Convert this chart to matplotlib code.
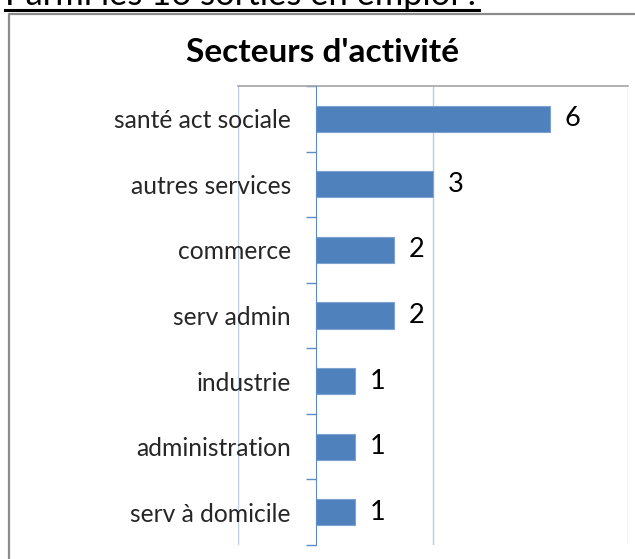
import matplotlib
matplotlib.use("Agg")
import matplotlib.pyplot as plt
from matplotlib.lines import Line2D

# data, top to bottom
secteurs = ["santé act sociale", "autres services", "commerce", "serv admin",
            "industrie", "administration", "serv à domicile"]
effectifs = [6, 3, 2, 2, 1, 1, 1]
grille_x = [-2, 3, 8]

titre = "Secteurs d'activité"
entete = "Parmi les 16 sorties en emploi :"

W, H = 635, 559
plt.rcParams['font.family'] = ['Lato', 'DejaVu Sans']

fig = plt.figure(figsize=(W / 100, H / 100), dpi=100)

def px(x, y):
    # pixel coords (from top-left) -> figure fraction
    return x / W, 1 - y / H

# header text, mostly cut off at the top like in the original
fig.text(*px(5, 5), entete, fontsize=24.8, color='black', va='baseline', ha='left')
fig.add_artist(Line2D([5 / W, 479 / W], [1 - 10 / H, 1 - 10 / H],
                      transform=fig.transFigure, color='black', lw=2.2))

# chart border (left and top visible)
fig.add_artist(Line2D([9 / W, 9 / W, 1.01], [-0.01, 1 - 14 / H, 1 - 14 / H],
                      transform=fig.transFigure, color='#8c8c8c', lw=1.6))

fig.text(*px(323, 62), titre, fontsize=24, fontweight='bold', color='black',
         va='baseline', ha='center')

left, right, top, bottom = 238, 628, 86, 545
ax = fig.add_axes([left / W, 1 - bottom / H, (right - left) / W, (bottom - top) / H])

# move the category axis to x=0 first (this resets the ticks)
ax.spines['left'].set_position(('data', 0))

pos = list(range(len(secteurs)))
ax.barh(pos, effectifs, height=0.4, color='#4f81bd', edgecolor='#7da2d0',
        linewidth=0.8, zorder=3)

for p, v in zip(pos, effectifs):
    ax.annotate(str(v), (v, p), xytext=(10.5, 0), textcoords='offset points',
                va='center', ha='left', fontsize=19.5, color='black')

ax.set_xlim(-2, 8)
ax.set_ylim(len(secteurs) - 0.5, -0.5)
ax.set_xticks(grille_x)
ax.tick_params(axis='x', length=0, labelbottom=False)
ax.grid(axis='x', color='#b9cde5', lw=1.0, zorder=0)

ax.set_yticks(pos)
ax.set_yticklabels(secteurs)
ax.set_yticks([p + 0.5 for p in [-1] + pos], minor=True)
ax.tick_params(axis='y', which='major', length=0, pad=18, labelsize=17.7,
               labelcolor='#262626')
ax.tick_params(axis='y', which='minor', length=7, width=1.0, color='#5b8bc9')

for s in ['right', 'bottom']:
    ax.spines[s].set_visible(False)
ax.spines['left'].set_color('#5b8bc9')
ax.spines['left'].set_zorder(4)
ax.spines['top'].set_color('#a6a6a6')
ax.spines['top'].set_linewidth(1.2)

fig.savefig("out.png", dpi=100)
